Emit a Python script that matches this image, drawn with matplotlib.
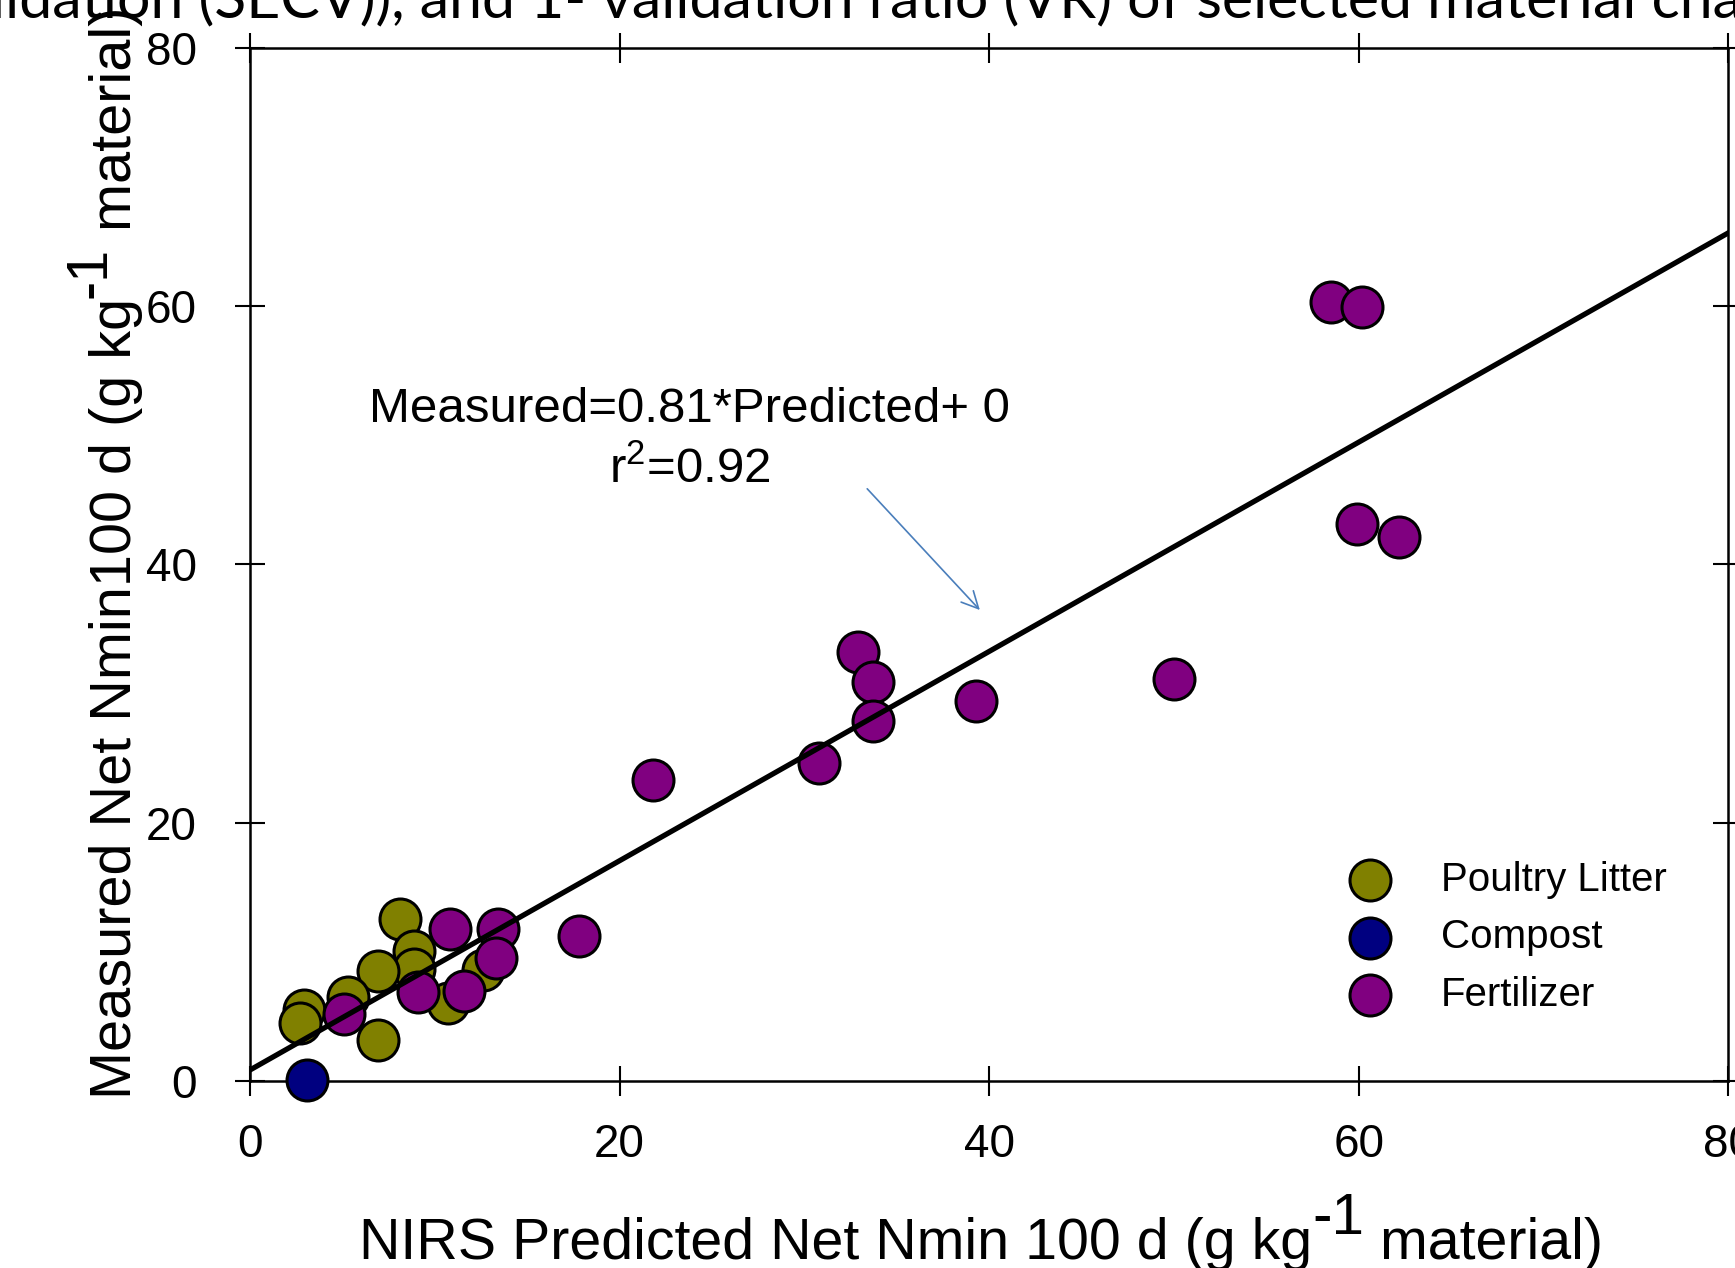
import matplotlib
matplotlib.use('Agg')
import numpy as np
import matplotlib.pyplot as plt
from matplotlib.transforms import IdentityTransform

plt.rcParams['font.family'] = ['Liberation Sans', 'DejaVu Sans']
plt.rcParams['mathtext.fontset'] = 'custom'
plt.rcParams['mathtext.rm'] = 'Liberation Sans'
plt.rcParams['mathtext.it'] = 'Liberation Sans'
plt.rcParams['mathtext.sf'] = 'Liberation Sans'

# measured vs NIRS predicted net N mineralization (g kg-1 material)
poultry_x = [8.1, 8.9, 8.9, 6.9, 5.3, 2.9, 2.7, 6.9, 10.7, 12.6]
poultry_y = [12.5, 10.1, 8.7, 8.5, 6.5, 5.5, 4.5, 3.2, 6.0, 8.6]

compost_x = [3.1]
compost_y = [0.1]

fert_x = [58.5, 60.2, 59.9, 62.2, 50.0, 39.3, 32.9, 33.7, 33.7, 30.8,
          21.8, 17.8, 10.8, 13.4, 13.3, 11.6, 9.1, 5.1]
fert_y = [60.3, 59.9, 43.1, 42.1, 31.1, 29.4, 33.2, 30.9, 27.9, 24.6,
          23.3, 11.2, 11.8, 11.8, 9.5, 7.0, 6.9, 5.2]

slope = 0.81
intercept = 0.85
ticks = [0, 20, 40, 60, 80]

fig = plt.figure(figsize=(17.35, 12.68), dpi=100)
ax = fig.add_axes([0.1441, 0.1475, 0.852, 0.815])

ms = 870
ew = 2.2
ax.scatter(poultry_x, poultry_y, s=ms, c='#808000', edgecolors='black', linewidths=ew,
           zorder=3, label='Poultry Litter', clip_on=False)
ax.scatter(compost_x, compost_y, s=ms, c='#000080', edgecolors='black', linewidths=ew,
           zorder=4, label='Compost', clip_on=False)
ax.scatter(fert_x, fert_y, s=ms, c='#800080', edgecolors='black', linewidths=ew,
           zorder=3, label='Fertilizer', clip_on=False)

xl = np.array([0, 80])
ax.plot(xl, slope * xl + intercept, color='black', lw=3.8, zorder=5)

ax.set_xlim(0, 80)
ax.set_ylim(0, 80)
ax.set_xticks(ticks)
ax.set_yticks(ticks)
for s in ax.spines.values():
    s.set_linewidth(1.8)
ax.tick_params(direction='inout', length=21, width=1.5, labelsize=33,
               top=True, right=True)
ax.tick_params(axis='x', pad=20)
ax.tick_params(axis='y', pad=28)

ax.text(23.8, 52.0, 'Measured=0.81*Predicted+ 0', fontsize=35.5, ha='center', va='center')
ax.text(23.8, 47.3, 'r$^2$=0.92', fontsize=35.5, ha='center', va='center')
ax.annotate('', xy=(39.6, 36.3), xytext=(33.3, 46.0),
            arrowprops=dict(arrowstyle='->', color='#4a7ebb', lw=1.2,
                            mutation_scale=30))

ax.legend(loc='center left', bbox_to_anchor=(0.728, 0.139), frameon=False,
          fontsize=29, handlelength=1.2, handletextpad=1.15, labelspacing=0.49,
          borderpad=0, scatterpoints=1)


def piece_label(parts, x0, y0, rotation=0):
    # draw text pieces one after another (pixel coords), with raised superscripts
    r = fig.canvas.get_renderer()
    pos = 0
    for txt, size, rise in parts:
        t = fig.text(0, 0, txt, fontsize=size, rotation=rotation, ha='left',
                     va='baseline', rotation_mode='anchor',
                     transform=IdentityTransform())
        if rotation == 0:
            t.set_position((x0 + pos, y0 + rise))
            pos += t.get_window_extent(r).width
        else:
            t.set_position((x0 - rise, y0 + pos))
            pos += t.get_window_extent(r).height


piece_label([('NIRS Predicted Net Nmin 100 d (g kg', 41.3, 0), ('-1', 42, 25),
             (' material)', 41.3, 0)], 359, 9)
piece_label([('Measured Net Nmin100 d (g kg', 41.5, 0), ('-1', 41.5, 26),
             (' material)', 41.5, 0)], 131, 169, rotation=90)

fig.text(-0.005, 1 - 17 / 1268,
         'lidation (SECV)), and 1- validation ratio (VR) of selected material cha',
         ha='left', va='baseline', fontsize=42.5, family=['Lato', 'DejaVu Sans'])

fig.savefig('out.png', dpi=100)
